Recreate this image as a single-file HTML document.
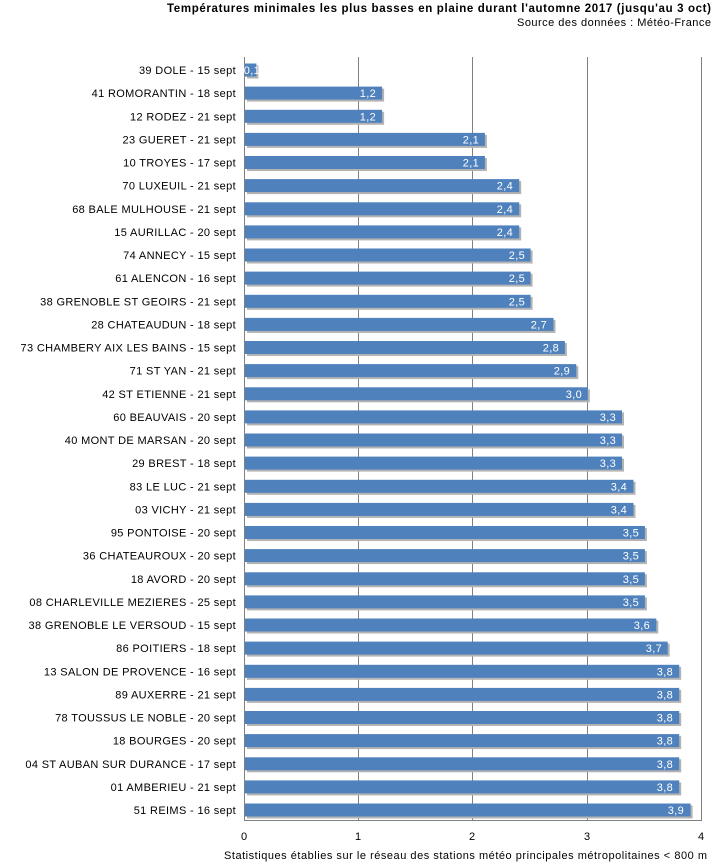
<!DOCTYPE html>
<html><head><meta charset="utf-8"><style>
body{margin:0;background:#fff}
svg{display:block;font-family:"Liberation Sans",sans-serif}
.l{font-size:11px;fill:#000;text-anchor:end;letter-spacing:0.35px}
.v{font-size:11px;fill:#fff;text-anchor:end;letter-spacing:0.3px}
.s{fill:#b3b3b3}
.b{fill:#4f81bd}
</style></head><body>
<svg width="715" height="864" viewBox="0 0 715 864">
<text x="167" y="12" font-size="11.5" font-weight="bold" textLength="544" lengthAdjust="spacing">Températures minimales les plus basses en plaine durant l'automne 2017 (jusqu'au 3 oct)</text>
<text x="517" y="26" font-size="11" textLength="194" lengthAdjust="spacing">Source des données : Météo-France</text>
<g stroke="#808080" stroke-width="1">
<line x1="358.5" y1="57" x2="358.5" y2="820"/>
<line x1="472.5" y1="57" x2="472.5" y2="820"/>
<line x1="587.5" y1="57" x2="587.5" y2="820"/>
<line x1="701.5" y1="57" x2="701.5" y2="820.5"/>
<line x1="244.5" y1="57" x2="244.5" y2="820.5"/>
<line x1="244" y1="820.5" x2="702" y2="820.5"/>
</g>
<g font-size="11" text-anchor="middle">
<text x="244" y="840">0</text><text x="358" y="840">1</text><text x="472" y="840">2</text><text x="587" y="840">3</text><text x="701" y="840">4</text>
</g>
<text x="224" y="859" font-size="11" textLength="483" lengthAdjust="spacing">Statistiques établies sur le réseau des stations météo principales métropolitaines &lt; 800 m</text>

<g transform="translate(0,70)"><rect class="s" x="247" y="-4.5" width="11.4" height="13"/><rect class="b" x="245" y="-6.5" width="11.4" height="13"/><text class="l" x="236" y="4">39 DOLE - 15 sept</text><text class="v" x="260" y="4">0,1</text></g>
<g transform="translate(0,93.1)"><rect class="s" x="247" y="-4.5" width="137.1" height="13"/><rect class="b" x="245" y="-6.5" width="137.1" height="13"/><text class="l" x="236" y="4">41 ROMORANTIN - 18 sept</text><text class="v" x="376" y="4">1,2</text></g>
<g transform="translate(0,116.3)"><rect class="s" x="247" y="-4.5" width="137.1" height="13"/><rect class="b" x="245" y="-6.5" width="137.1" height="13"/><text class="l" x="236" y="4">12 RODEZ - 21 sept</text><text class="v" x="376" y="4">1,2</text></g>
<g transform="translate(0,139.4)"><rect class="s" x="247" y="-4.5" width="239.9" height="13"/><rect class="b" x="245" y="-6.5" width="239.9" height="13"/><text class="l" x="236" y="4">23 GUERET - 21 sept</text><text class="v" x="479" y="4">2,1</text></g>
<g transform="translate(0,162.5)"><rect class="s" x="247" y="-4.5" width="239.9" height="13"/><rect class="b" x="245" y="-6.5" width="239.9" height="13"/><text class="l" x="236" y="4">10 TROYES - 17 sept</text><text class="v" x="479" y="4">2,1</text></g>
<g transform="translate(0,185.6)"><rect class="s" x="247" y="-4.5" width="274.2" height="13"/><rect class="b" x="245" y="-6.5" width="274.2" height="13"/><text class="l" x="236" y="4">70 LUXEUIL - 21 sept</text><text class="v" x="513" y="4">2,4</text></g>
<g transform="translate(0,208.8)"><rect class="s" x="247" y="-4.5" width="274.2" height="13"/><rect class="b" x="245" y="-6.5" width="274.2" height="13"/><text class="l" x="236" y="4">68 BALE MULHOUSE - 21 sept</text><text class="v" x="513" y="4">2,4</text></g>
<g transform="translate(0,231.9)"><rect class="s" x="247" y="-4.5" width="274.2" height="13"/><rect class="b" x="245" y="-6.5" width="274.2" height="13"/><text class="l" x="236" y="4">15 AURILLAC - 20 sept</text><text class="v" x="513" y="4">2,4</text></g>
<g transform="translate(0,255)"><rect class="s" x="247" y="-4.5" width="285.6" height="13"/><rect class="b" x="245" y="-6.5" width="285.6" height="13"/><text class="l" x="236" y="4">74 ANNECY - 15 sept</text><text class="v" x="525" y="4">2,5</text></g>
<g transform="translate(0,278.1)"><rect class="s" x="247" y="-4.5" width="285.6" height="13"/><rect class="b" x="245" y="-6.5" width="285.6" height="13"/><text class="l" x="236" y="4">61 ALENCON - 16 sept</text><text class="v" x="525" y="4">2,5</text></g>
<g transform="translate(0,301.3)"><rect class="s" x="247" y="-4.5" width="285.6" height="13"/><rect class="b" x="245" y="-6.5" width="285.6" height="13"/><text class="l" x="236" y="4">38 GRENOBLE ST GEOIRS - 21 sept</text><text class="v" x="525" y="4">2,5</text></g>
<g transform="translate(0,324.4)"><rect class="s" x="247" y="-4.5" width="308.5" height="13"/><rect class="b" x="245" y="-6.5" width="308.5" height="13"/><text class="l" x="236" y="4">28 CHATEAUDUN - 18 sept</text><text class="v" x="547" y="4">2,7</text></g>
<g transform="translate(0,347.5)"><rect class="s" x="247" y="-4.5" width="319.9" height="13"/><rect class="b" x="245" y="-6.5" width="319.9" height="13"/><text class="l" x="236" y="4">73 CHAMBERY AIX LES BAINS - 15 sept</text><text class="v" x="559" y="4">2,8</text></g>
<g transform="translate(0,370.6)"><rect class="s" x="247" y="-4.5" width="331.3" height="13"/><rect class="b" x="245" y="-6.5" width="331.3" height="13"/><text class="l" x="236" y="4">71 ST YAN - 21 sept</text><text class="v" x="570" y="4">2,9</text></g>
<g transform="translate(0,393.8)"><rect class="s" x="247" y="-4.5" width="342.8" height="13"/><rect class="b" x="245" y="-6.5" width="342.8" height="13"/><text class="l" x="236" y="4">42 ST ETIENNE - 21 sept</text><text class="v" x="582" y="4">3,0</text></g>
<g transform="translate(0,416.9)"><rect class="s" x="247" y="-4.5" width="377" height="13"/><rect class="b" x="245" y="-6.5" width="377" height="13"/><text class="l" x="236" y="4">60 BEAUVAIS - 20 sept</text><text class="v" x="616" y="4">3,3</text></g>
<g transform="translate(0,440)"><rect class="s" x="247" y="-4.5" width="377" height="13"/><rect class="b" x="245" y="-6.5" width="377" height="13"/><text class="l" x="236" y="4">40 MONT DE MARSAN - 20 sept</text><text class="v" x="616" y="4">3,3</text></g>
<g transform="translate(0,463.1)"><rect class="s" x="247" y="-4.5" width="377" height="13"/><rect class="b" x="245" y="-6.5" width="377" height="13"/><text class="l" x="236" y="4">29 BREST - 18 sept</text><text class="v" x="616" y="4">3,3</text></g>
<g transform="translate(0,486.3)"><rect class="s" x="247" y="-4.5" width="388.5" height="13"/><rect class="b" x="245" y="-6.5" width="388.5" height="13"/><text class="l" x="236" y="4">83 LE LUC - 21 sept</text><text class="v" x="627" y="4">3,4</text></g>
<g transform="translate(0,509.4)"><rect class="s" x="247" y="-4.5" width="388.5" height="13"/><rect class="b" x="245" y="-6.5" width="388.5" height="13"/><text class="l" x="236" y="4">03 VICHY - 21 sept</text><text class="v" x="627" y="4">3,4</text></g>
<g transform="translate(0,532.5)"><rect class="s" x="247" y="-4.5" width="399.9" height="13"/><rect class="b" x="245" y="-6.5" width="399.9" height="13"/><text class="l" x="236" y="4">95 PONTOISE - 20 sept</text><text class="v" x="639" y="4">3,5</text></g>
<g transform="translate(0,555.6)"><rect class="s" x="247" y="-4.5" width="399.9" height="13"/><rect class="b" x="245" y="-6.5" width="399.9" height="13"/><text class="l" x="236" y="4">36 CHATEAUROUX - 20 sept</text><text class="v" x="639" y="4">3,5</text></g>
<g transform="translate(0,578.8)"><rect class="s" x="247" y="-4.5" width="399.9" height="13"/><rect class="b" x="245" y="-6.5" width="399.9" height="13"/><text class="l" x="236" y="4">18 AVORD - 20 sept</text><text class="v" x="639" y="4">3,5</text></g>
<g transform="translate(0,601.9)"><rect class="s" x="247" y="-4.5" width="399.9" height="13"/><rect class="b" x="245" y="-6.5" width="399.9" height="13"/><text class="l" x="236" y="4">08 CHARLEVILLE MEZIERES - 25 sept</text><text class="v" x="639" y="4">3,5</text></g>
<g transform="translate(0,625)"><rect class="s" x="247" y="-4.5" width="411.3" height="13"/><rect class="b" x="245" y="-6.5" width="411.3" height="13"/><text class="l" x="236" y="4">38 GRENOBLE LE VERSOUD - 15 sept</text><text class="v" x="650" y="4">3,6</text></g>
<g transform="translate(0,648.1)"><rect class="s" x="247" y="-4.5" width="422.7" height="13"/><rect class="b" x="245" y="-6.5" width="422.7" height="13"/><text class="l" x="236" y="4">86 POITIERS - 18 sept</text><text class="v" x="662" y="4">3,7</text></g>
<g transform="translate(0,671.3)"><rect class="s" x="247" y="-4.5" width="434.2" height="13"/><rect class="b" x="245" y="-6.5" width="434.2" height="13"/><text class="l" x="236" y="4">13 SALON DE PROVENCE - 16 sept</text><text class="v" x="673" y="4">3,8</text></g>
<g transform="translate(0,694.4)"><rect class="s" x="247" y="-4.5" width="434.2" height="13"/><rect class="b" x="245" y="-6.5" width="434.2" height="13"/><text class="l" x="236" y="4">89 AUXERRE - 21 sept</text><text class="v" x="673" y="4">3,8</text></g>
<g transform="translate(0,717.5)"><rect class="s" x="247" y="-4.5" width="434.2" height="13"/><rect class="b" x="245" y="-6.5" width="434.2" height="13"/><text class="l" x="236" y="4">78 TOUSSUS LE NOBLE - 20 sept</text><text class="v" x="673" y="4">3,8</text></g>
<g transform="translate(0,740.6)"><rect class="s" x="247" y="-4.5" width="434.2" height="13"/><rect class="b" x="245" y="-6.5" width="434.2" height="13"/><text class="l" x="236" y="4">18 BOURGES - 20 sept</text><text class="v" x="673" y="4">3,8</text></g>
<g transform="translate(0,763.8)"><rect class="s" x="247" y="-4.5" width="434.2" height="13"/><rect class="b" x="245" y="-6.5" width="434.2" height="13"/><text class="l" x="236" y="4">04 ST AUBAN SUR DURANCE - 17 sept</text><text class="v" x="673" y="4">3,8</text></g>
<g transform="translate(0,786.9)"><rect class="s" x="247" y="-4.5" width="434.2" height="13"/><rect class="b" x="245" y="-6.5" width="434.2" height="13"/><text class="l" x="236" y="4">01 AMBERIEU - 21 sept</text><text class="v" x="673" y="4">3,8</text></g>
<g transform="translate(0,810)"><rect class="s" x="247" y="-4.5" width="445.6" height="13"/><rect class="b" x="245" y="-6.5" width="445.6" height="13"/><text class="l" x="236" y="4">51 REIMS - 16 sept</text><text class="v" x="684" y="4">3,9</text></g>
</svg>
</body></html>
